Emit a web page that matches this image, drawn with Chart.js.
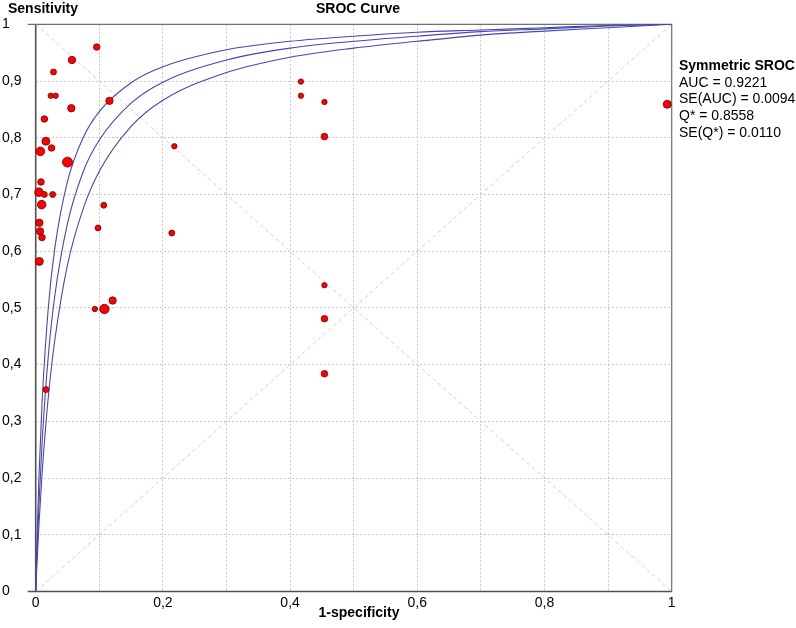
<!DOCTYPE html>
<html><head><meta charset="utf-8">
<script src="https://cdn.jsdelivr.net/npm/chart.js@4.4.0/dist/chart.umd.min.js"></script>
<style>html,body{margin:0;padding:0;background:#fff;overflow:hidden}#wrap{width:796px;height:628px;position:relative}</style>
</head><body><div id="wrap"><canvas id="c" width="796" height="628" style="width:796px;height:628px"></canvas></div>
<script>
// ---- Study data (1-specificity, sensitivity, relative weight) ----
const falsePositiveRate = [0.096,0.057,0.028,0.0236,0.0314,0.116,0.056,0.0136,0.016,0.025,0.0073,0.218,0.050,0.0083,0.0052,0.0136,0.0267,0.0094,0.107,0.0057,0.098,0.0068,0.0099,0.214,0.0057,0.093,0.108,0.121,0.0162,0.417,0.417,0.454,0.454,0.454,0.454,0.454,0.993];
const sensitivity       = [0.960,0.937,0.916,0.874,0.874,0.865,0.852,0.833,0.794,0.782,0.776,0.785,0.757,0.722,0.704,0.700,0.700,0.682,0.681,0.650,0.641,0.635,0.624,0.632,0.582,0.498,0.498,0.513,0.356,0.899,0.874,0.863,0.802,0.540,0.481,0.384,0.859];
const studyWeights      = [1.22,1.37,1.1,1.0,1.0,1.37,1.37,1.22,1.48,1.22,1.6,1.0,1.85,1.22,1.6,1.1,1.1,1.6,1.1,1.37,1.1,1.37,1.22,1.1,1.48,1.0,1.74,1.37,1.1,1.0,1.0,1.0,1.22,1.0,1.22,1.22,1.48];

// ---- SROC curve and its confidence curves ----
const curveFpr  = [0,0.002,0.005,0.01,0.02,0.03,0.05,0.075,0.1,0.15,0.2,0.3,0.4,0.5,0.6,0.7,0.8,0.9,1];
const srocUpper = [0,0.090,0.199,0.333,0.503,0.605,0.723,0.801,0.846,0.897,0.925,0.955,0.970,0.979,0.986,0.990,0.994,0.998,1];
const srocMid   = [0,0.066,0.150,0.262,0.418,0.521,0.649,0.741,0.796,0.861,0.898,0.937,0.958,0.970,0.979,0.987,0.992,0.997,1];
const srocLower = [0,0.049,0.115,0.207,0.345,0.443,0.576,0.676,0.741,0.820,0.866,0.915,0.942,0.958,0.970,0.981,0.988,0.994,1];

// ---- Tick labels and texts ----
const xTickLabels = ['0','0,2','0,4','0,6','0,8','1'];
const yTickLabels = ['0','0,1','0,2','0,3','0,4','0,5','0,6','0,7','0,8','0,9','1'];
const chartTitle = 'SROC Curve';
const yAxisTitle = 'Sensitivity';
const xAxisTitle = '1-specificity';
const statsTitle = 'Symmetric SROC';
const statsLines = ['AUC = 0.9221','SE(AUC) = 0.0094','Q* = 0.8558','SE(Q*) = 0.0110'];

const FONT = '"Liberation Sans", Arial, Helvetica, sans-serif';
const studyPoints = falsePositiveRate.map((x,i)=>({x:x, y:sensitivity[i]}));
const curvePts = arr => curveFpr.map((x,i)=>({x:x, y:arr[i]}));

const curveStyle = {showLine:true, borderColor:'#4646b4', borderWidth:1.1, pointRadius:0, fill:false, cubicInterpolationMode:'monotone', order:1};
const diagStyle = {showLine:true, borderColor:'#d0d0d0', borderWidth:1, borderDash:[4,3], pointRadius:0, fill:false, order:2};

const framePlugin = {
  id:'frame',
  beforeDatasetsDraw(chart){
    const {ctx, chartArea:a} = chart;
    ctx.save();
    ctx.lineCap='butt';
    ctx.strokeStyle='#707070'; ctx.lineWidth=1.2;
    ctx.beginPath(); ctx.moveTo(a.left-8,a.top); ctx.lineTo(a.right,a.top); ctx.lineTo(a.right,a.bottom); ctx.stroke();
    ctx.strokeStyle='#505050'; ctx.lineWidth=1.6;
    ctx.beginPath(); ctx.moveTo(a.left,a.top); ctx.lineTo(a.left,a.bottom); ctx.stroke();
    ctx.beginPath(); ctx.moveTo(a.left-8,a.bottom); ctx.lineTo(a.right,a.bottom); ctx.stroke();
    ctx.restore();
  },
  afterDraw(chart){
    const {ctx, chartArea:a} = chart;
    ctx.save();
    ctx.fillStyle='#000';
    ctx.textBaseline='middle';
    ctx.font='bold 14px '+FONT;
    ctx.textAlign='left';
    ctx.fillText(yAxisTitle, 8, 9);
    ctx.textAlign='center';
    ctx.fillText(chartTitle, 358, 9);
    ctx.fillText(xAxisTitle, 359, 613);
    ctx.textAlign='left';
    ctx.fillText(statsTitle, 679, 66.5);
    ctx.font='14px '+FONT;
    statsLines.forEach((t,i)=>ctx.fillText(t, 679, 83+i*16.6));
    ctx.restore();
  }
};

new Chart(document.getElementById('c'), {
  type:'scatter',
  data:{datasets:[
    {label:'Studies', data:studyPoints, showLine:false, order:0, clip:false,
     pointRadius: c => 2.7*studyWeights[c.dataIndex], pointHoverRadius: c => 2.7*studyWeights[c.dataIndex],
     backgroundColor:'#ff0000', borderColor:'#6e0000', borderWidth:0.8},
    Object.assign({label:'Upper', data:curvePts(srocUpper)}, curveStyle),
    Object.assign({label:'SROC', data:curvePts(srocMid)}, curveStyle),
    Object.assign({label:'Lower', data:curvePts(srocLower)}, curveStyle),
    Object.assign({label:'Diag1', data:[{x:0,y:0},{x:1,y:1}]}, diagStyle),
    Object.assign({label:'Diag2', data:[{x:0,y:1},{x:1,y:0}]}, diagStyle)
  ]},
  options:{
    responsive:false, animation:false, devicePixelRatio:1,
    layout:{padding:{left:2, top:24.3, right:124.3, bottom:0}},
    plugins:{legend:{display:false}, tooltip:{enabled:false}, title:{display:false}},
    scales:{
      x:{type:'linear', min:0, max:1,
        ticks:{stepSize:0.1, autoSkip:false, maxRotation:0, padding:3, color:'#000', font:{family:FONT, size:14},
          callback:(v)=>{const k=Math.round(v*10); return k%2===0 ? xTickLabels[k/2] : '';}},
        grid:{color:'#c8c8c8', lineWidth:1, drawTicks:false},
        border:{display:false, dash:[2,2]},
        afterFit:s=>{s.height=36.5;}
      },
      y:{type:'linear', min:0, max:1,
        ticks:{stepSize:0.1, autoSkip:false, crossAlign:'far', padding:0, color:'#000', font:{family:FONT, size:14},
          callback:(v)=>yTickLabels[Math.round(v*10)]},
        grid:{color:'#c8c8c8', lineWidth:1, drawTicks:false},
        border:{display:false, dash:[2,2]},
        afterFit:s=>{s.width=33.7;}
      }
    }
  },
  plugins:[framePlugin]
});
</script></body></html>
